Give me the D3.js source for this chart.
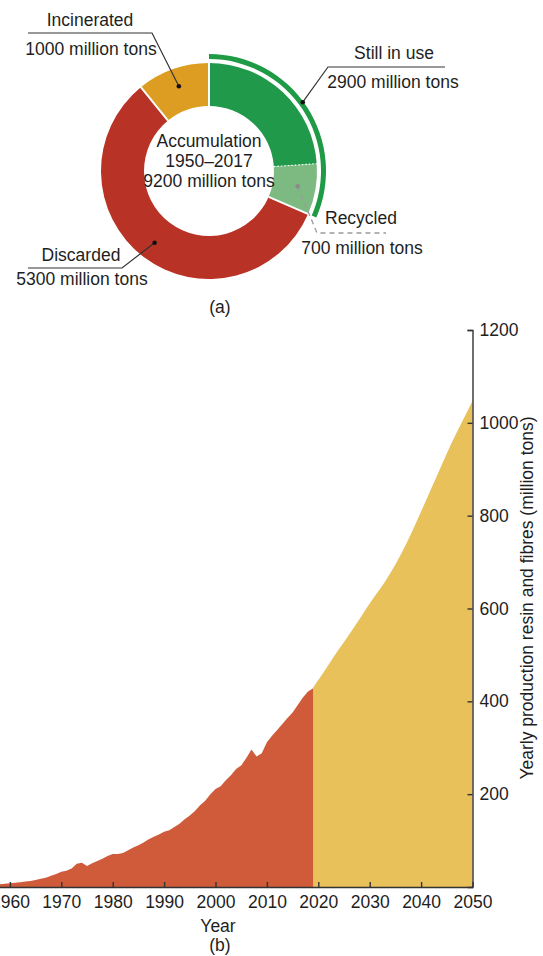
<!DOCTYPE html>
<html>
<head>
<meta charset="utf-8">
<script src="https://cdn.jsdelivr.net/npm/d3@7"></script>
<style>
body { margin: 0; background: #fff; }
svg { display: block; font-family: "Liberation Sans", Arial, sans-serif; }
</style>
</head>
<body>
<script>
// (a) accumulation 1950-2017, million tons
var segNames = ["In use", "Recycled", "Discarded", "Incinerated"];
var segValues = [2200, 700, 5300, 1000];
var segColors = ["#21994a", "#7dba82", "#b83226", "#dc9d22"];
var centerLines = ["Accumulation", "1950\u20132017", "9200 million tons"];

// (b) yearly production, million tons
var histYears = d3.range(1950, 2020);
var histValues = [2, 2, 2, 3, 3, 4, 5, 5, 6, 7,
    8, 9, 10, 12, 13, 15, 18, 20, 24, 28,
    33, 35, 40, 50, 52, 45, 51, 56, 61, 67,
    71, 71, 73, 79, 85, 90, 96, 103, 108, 113,
    119, 122, 129, 136, 146, 154, 164, 176, 186, 200,
    211, 217, 230, 241, 254, 262, 278, 296, 281, 288,
    312, 326, 338, 351, 364, 376, 392, 408, 421, 428];
var projYears = d3.range(2019, 2051);
var projValues = [430, 446, 462, 479, 496, 512, 528, 544, 560, 577,
    594, 611, 627, 642, 658, 676, 695, 715, 737, 760,
    784, 809, 834, 859, 884, 909, 934, 958, 981, 1003,
    1025, 1047];
var xTicks = [1960, 1970, 1980, 1990, 2000, 2010, 2020, 2030, 2040, 2050];
var yTicks = [200, 400, 600, 800, 1000, 1200];

var width = 543, height = 956;
var ink = "#1e1e1e";
var fs = "17.5px";

var svg = d3.select("body")
        .append("svg")
        .attr("width", width)
        .attr("height", height);

// ---------- donut ----------
var cx = 209, cy = 171;
var rIn = 65, rOut = 108;

var g = svg.append("g").attr("transform", "translate(" + cx + "," + cy + ")");

var slices = d3.pie().sort(null).value(function(d) { return d; })(segValues);
var arc = d3.arc().innerRadius(rIn).outerRadius(rOut);

g.selectAll("path.seg")
        .data(slices)
        .enter()
        .append("path")
        .attr("class", "seg")
        .attr("d", arc)
        .attr("fill", function(d, i) { return segColors[i]; });

// white seams, dotted between in-use and recycled
g.selectAll("line.seam")
        .data(slices)
        .enter()
        .append("line")
        .attr("x1", function(d) { return rIn * Math.sin(d.startAngle); })
        .attr("y1", function(d) { return -rIn * Math.cos(d.startAngle); })
        .attr("x2", function(d) { return (rOut + 1) * Math.sin(d.startAngle); })
        .attr("y2", function(d) { return -(rOut + 1) * Math.cos(d.startAngle); })
        .attr("stroke", "#fff")
        .attr("stroke-width", function(d, i) { return i == 1 ? 1.2 : 2; })
        .attr("stroke-dasharray", function(d, i) { return i == 1 ? "1.5,2" : null; });

// center text
g.selectAll("text.center")
        .data(centerLines)
        .enter()
        .append("text")
        .attr("x", 0)
        .attr("y", function(d, i) { return -24 + i * 20; })
        .attr("text-anchor", "middle")
        .attr("font-size", fs)
        .attr("fill", ink)
        .text(function(d) { return d; });

// dot helpers
var midArc = d3.arc().innerRadius(89).outerRadius(91);
function dotAt(slice) {
    var c = midArc.centroid(slice);
    return [cx + c[0], cy + c[1]];
}

// recycled dashed leader (under the bracket)
var pRec = dotAt(slices[1]);
svg.append("polyline")
        .attr("points", [pRec, [317, 233], [386, 233]].join(" "))
        .attr("fill", "none")
        .attr("stroke", "#9a9a9a")
        .attr("stroke-width", 1.3)
        .attr("stroke-dasharray", "5,4");

// bracket for "still in use" (in use + recycled)
var bracket = d3.arc()
        .innerRadius(112).outerRadius(117)
        .startAngle(slices[0].startAngle)
        .endAngle(slices[1].endAngle);
g.append("path")
        .attr("d", bracket())
        .attr("fill", "#1f9a45");

var bc = bracket.centroid();
var pUse = [cx + bc[0] - 2, cy + bc[1] - 6];
var pInc = dotAt(slices[3]);
var pDis = dotAt(slices[2]);

var leaders = [
    [[28, 33], [152, 33], pInc],
    [[445, 67], [328, 67], pUse],
    [[28, 268], [122, 268], pDis]
];
svg.selectAll("polyline.lead")
        .data(leaders)
        .enter()
        .append("polyline")
        .attr("class", "lead")
        .attr("points", function(d) { return d.join(" "); })
        .attr("fill", "none")
        .attr("stroke", "#333")
        .attr("stroke-width", 1.2);

svg.selectAll("circle.dot")
        .data([pInc, pUse, pDis, pRec])
        .enter()
        .append("circle")
        .attr("cx", function(d) { return d[0]; })
        .attr("cy", function(d) { return d[1]; })
        .attr("r", 2.3)
        .attr("fill", function(d, i) { return i == 3 ? "#8a8a8a" : "#111"; });

var labels = [
    { t: "Incinerated", x: 90, y: 26 },
    { t: segValues[3] + " million tons", x: 91, y: 55 },
    { t: "Still in use", x: 394, y: 59 },
    { t: (segValues[0] + segValues[1]) + " million tons", x: 393, y: 88 },
    { t: "Recycled", x: 361, y: 224 },
    { t: segValues[1] + " million tons", x: 362, y: 254 },
    { t: "Discarded", x: 81, y: 261 },
    { t: segValues[2] + " million tons", x: 82, y: 285 },
    { t: "(a)", x: 220, y: 313 }
];
svg.selectAll("text.lab")
        .data(labels)
        .enter()
        .append("text")
        .attr("x", function(d) { return d.x; })
        .attr("y", function(d) { return d.y; })
        .attr("text-anchor", "middle")
        .attr("font-size", fs)
        .attr("fill", ink)
        .text(function(d) { return d.t; });

// ---------- area chart ----------
var x = d3.scaleLinear().domain([1950, 2050]).range([-41.5, 472.5]);
var y = d3.scaleLinear().domain([0, 1200]).range([887, 330]);

var area = d3.area()
        .x(function(d) { return x(d[0]); })
        .y0(y(0))
        .y1(function(d) { return y(d[1]); });

svg.append("path")
        .datum(d3.zip(projYears, projValues))
        .attr("d", area)
        .attr("fill", "#e9c15a");

svg.append("path")
        .datum(d3.zip(histYears, histValues))
        .attr("d", area)
        .attr("fill", "#cf5b3a");

var xAxis = svg.append("g")
        .attr("transform", "translate(0," + y(0) + ")")
        .call(d3.axisBottom(x).tickValues(xTicks).tickFormat(d3.format("d"))
            .tickSizeInner(-5).tickSizeOuter(0).tickPadding(9));

var yAxis = svg.append("g")
        .attr("transform", "translate(" + x(2050) + ",0)")
        .call(d3.axisRight(y).tickValues(yTicks).tickFormat(d3.format("d"))
            .tickSizeInner(-5).tickSizeOuter(-5).tickPadding(7));

[xAxis, yAxis].forEach(function(a) {
    a.select(".domain").attr("stroke", "#333").attr("stroke-width", 1.4);
    a.selectAll(".tick line").attr("stroke", "#333").attr("stroke-width", 1.4);
    a.selectAll(".tick text").attr("font-size", fs).attr("fill", ink)
        .attr("font-family", "Liberation Sans, Arial, sans-serif");
});

svg.append("text")
        .attr("transform", "translate(533,598) rotate(-90)")
        .attr("text-anchor", "middle")
        .attr("font-size", fs)
        .attr("fill", ink)
        .text("Yearly production resin and fibres (million tons)");

svg.append("text")
        .attr("x", 218).attr("y", 932)
        .attr("text-anchor", "middle")
        .attr("font-size", fs)
        .attr("fill", ink)
        .text("Year");

svg.append("text")
        .attr("x", 220).attr("y", 951)
        .attr("text-anchor", "middle")
        .attr("font-size", fs)
        .attr("fill", ink)
        .text("(b)");
</script>
</body>
</html>
